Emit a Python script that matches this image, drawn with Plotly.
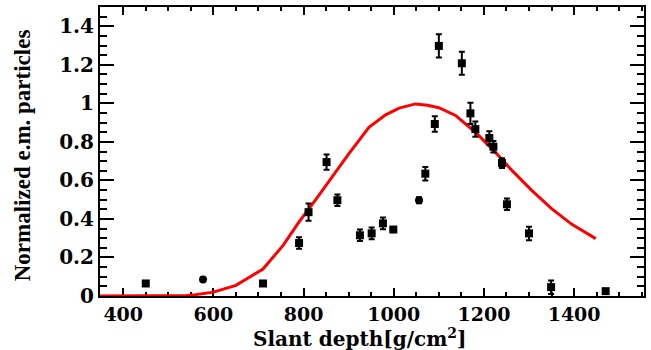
import plotly.graph_objects as go

# Data points (slant depth, normalized e.m. particles, error)
pts_x = [450, 577, 710, 790, 811, 851, 875, 925, 951, 976, 999, 1056, 1070,
         1091, 1100, 1151, 1170, 1181, 1212, 1221, 1240, 1251, 1300, 1349, 1470]
pts_y = [0.065, 0.085, 0.065, 0.275, 0.435, 0.695, 0.497, 0.315, 0.325, 0.377,
         0.345, 0.497, 0.635, 0.893, 1.298, 1.208, 0.948, 0.866, 0.82, 0.775,
         0.69, 0.476, 0.325, 0.046, 0.025]
pts_err = [0, 0, 0, 0.03, 0.045, 0.04, 0.03, 0.03, 0.03, 0.03, 0.0, 0.015, 0.035,
           0.04, 0.06, 0.06, 0.055, 0.04, 0.035, 0.03, 0.025, 0.03, 0.035, 0.035, 0]
pts_sym = ["square", "circle", "square", "square", "square", "square", "square",
           "square", "square", "square", "square", "circle", "square", "square",
           "square", "square", "square", "square", "square", "square", "square",
           "square", "square", "square", "square"]

# Red curve
curve_x = [348, 420, 500, 540, 560, 600, 650, 710, 755, 790, 827, 864, 901, 945,
           982, 1012, 1048, 1075, 1100, 1137, 1181, 1225, 1262, 1306, 1350, 1395, 1448]
curve_y = [0, 0, 0, 0.002, 0.007, 0.02, 0.055, 0.14, 0.264, 0.385, 0.5, 0.62, 0.74,
           0.875, 0.94, 0.975, 0.997, 0.99, 0.977, 0.937, 0.85, 0.747, 0.652, 0.548,
           0.453, 0.372, 0.298]

x_ticks = [400, 600, 800, 1000, 1200, 1400]
y_ticks = [0, 0.2, 0.4, 0.6, 0.8, 1.0, 1.2, 1.4]
y_tick_labels = ["0", "0.2", "0.4", "0.6", "0.8", "1", "1.2", "1.4"]

FONT = "DejaVu Serif"
TITLE_FONT = "Liberation Serif"

fig = go.Figure()
fig.add_trace(go.Scatter(
    x=curve_x, y=curve_y, mode="lines",
    line=dict(color="#ff0000", width=3), cliponaxis=False, showlegend=False,
))
fig.add_trace(go.Scatter(
    x=pts_x, y=pts_y, mode="markers",
    marker=dict(color="black", size=8, symbol=pts_sym),
    error_y=dict(type="data", array=pts_err, color="black", thickness=2, width=3),
    cliponaxis=False, showlegend=False,
))

axis_common = dict(
    showline=True, linecolor="black", linewidth=2, mirror="allticks",
    ticks="inside", tickcolor="black", tickwidth=2,
    showgrid=False, zeroline=False, layer="below traces",
)

fig.update_layout(
    width=651, height=350,
    margin=dict(l=100, r=5, t=7, b=54),
    plot_bgcolor="white", paper_bgcolor="white",
    xaxis=dict(range=[348.5, 1555], tickvals=x_ticks, ticklen=8,
               tickfont=dict(family=FONT, size=19, color="black", weight="bold"),
               minor=dict(dtick=50, tick0=0, ticklen=4, tickwidth=2, ticks="inside", tickcolor="black"),
               **axis_common),
    yaxis=dict(range=[0, 1.5], tickvals=y_ticks, ticktext=y_tick_labels, ticklen=14,
               tickfont=dict(family=FONT, size=20, color="black", weight="bold"),
               minor=dict(dtick=0.05, tick0=0, ticklen=7, tickwidth=2, ticks="inside", tickcolor="black"),
               **axis_common),
    annotations=[
        dict(text="Slant depth[g/cm<sup>2</sup>]", xref="paper", yref="paper",
             x=0.478, y=-0.145, showarrow=False, xanchor="center", yanchor="middle",
             font=dict(family=FONT, size=20, color="black", weight="bold")),
        dict(text="Normalized e.m. particles", xref="paper", yref="paper",
             x=-0.141, y=0.488, showarrow=False, textangle=-90,
             xanchor="center", yanchor="middle",
             font=dict(family=TITLE_FONT, size=23, color="black", weight="bold")),
    ],
)

fig.write_html("out.html")
